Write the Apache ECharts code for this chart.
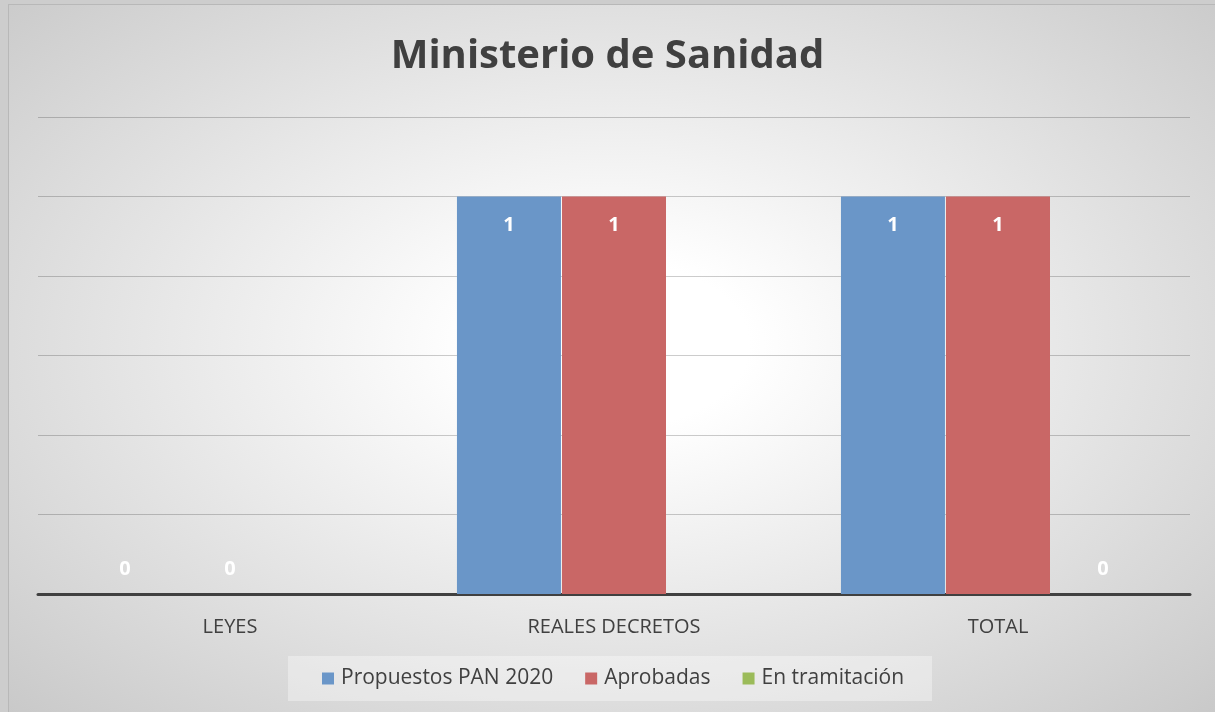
<!DOCTYPE html>
<html>
<head>
<meta charset="utf-8">
<script src="https://cdn.jsdelivr.net/npm/echarts@6/dist/echarts.min.js"></script>
<style>
  html, body { margin: 0; padding: 0; background: #cdcdcd; }
  #frame {
    position: absolute; left: 8px; top: 4px; width: 1207px; height: 708px;
    border-left: 1px solid #b8b8b8; border-top: 1px solid #b8b8b8;
    background: radial-gradient(ellipse at 50% 48%, #ffffff 16%, #c9c9c9 100%);
  }
  #chart { position: absolute; left: -9px; top: -5px; width: 1215px; height: 712px; }
</style>
</head>
<body>
<div id="frame"><div id="chart"></div></div>
<script>
const categories = ['LEYES', 'REALES DECRETOS', 'TOTAL'];
const propuestos = [0, 1, 1];
const aprobadas = [0, 1, 1];
const tramitacion = [null, null, 0];
const seriesNames = ['Propuestos PAN 2020', 'Aprobadas', 'En tramitación'];
const seriesColors = ['#6a96c8', '#c96766', '#9bbb59'];

const chart = echarts.init(document.getElementById('chart'));

// zero values sit above the axis, the rest sit inside the bar top
function toItems(values) {
  return values.map(v => {
    if (v === null) return '-';
    if (v === 0) return { value: v, label: { position: 'top', distance: 15 } };
    return { value: v };
  });
}

function barSeries(name, values, color) {
  return {
    name,
    type: 'bar',
    barWidth: 104,
    barGap: '1%',
    data: toItems(values),
    itemStyle: { color, borderWidth: 0 },
    label: {
      show: true,
      position: 'insideTop',
      distance: 19,
      color: '#ffffff',
      fontWeight: 'bold',
      fontSize: 20,
      fontFamily: 'Open Sans'
    }
  };
}

chart.setOption({
  backgroundColor: 'transparent',
  animation: false,
  title: {
    text: 'Ministerio de Sanidad',
    left: 'center',
    top: 32,
    textStyle: { fontSize: 40, fontWeight: 'bold', color: '#404040', fontFamily: 'Open Sans' }
  },
  grid: { left: 38, right: 25, top: 117, bottom: 118 },
  legend: {
    bottom: 11,
    left: 288,
    itemWidth: 12,
    itemHeight: 12,
    itemGap: 32,
    padding: [12, 28, 12, 34],
    backgroundColor: 'rgba(255,255,255,0.35)',
    icon: 'rect',
    textStyle: { fontSize: 21, color: '#404040', fontFamily: 'Open Sans', padding: [0, 0, 0, 2] },
    data: seriesNames
  },
  xAxis: {
    type: 'category',
    data: categories,
    axisLine: { lineStyle: { color: '#404040', width: 3 } },
    axisTick: { show: false },
    axisLabel: { fontSize: 20, color: '#404040', margin: 23, fontFamily: 'Open Sans' }
  },
  yAxis: {
    type: 'value',
    min: 0,
    max: 1.2,
    interval: 0.2,
    axisLabel: { show: false },
    axisLine: { show: false },
    axisTick: { show: false },
    splitLine: { lineStyle: { color: 'rgba(0,0,0,0.2)', width: 1 } }
  },
  series: [
    barSeries(seriesNames[0], propuestos, seriesColors[0]),
    barSeries(seriesNames[1], aprobadas, seriesColors[1]),
    barSeries(seriesNames[2], tramitacion, seriesColors[2])
  ]
});
</script>
</body>
</html>
